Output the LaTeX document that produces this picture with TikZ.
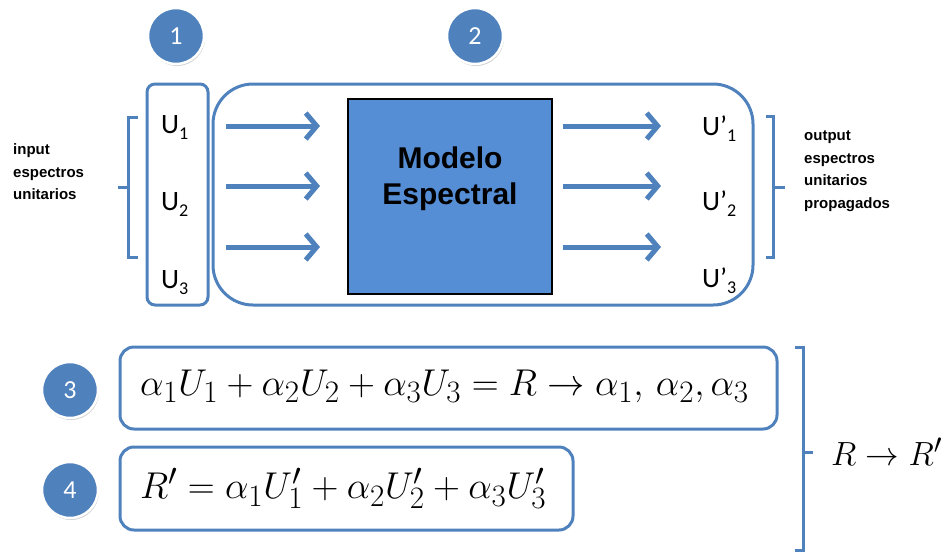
\documentclass[tikz,border=0pt]{standalone}
\usepackage{graphicx}
\usepackage{fontspec}
\setmainfont{Liberation Sans}
\newfontfamily\carl{Carlito}
\usetikzlibrary{arrows.meta,shadows}
\definecolor{ublue}{HTML}{4F81BD}
\definecolor{mfill}{HTML}{558ED5}
\newcommand\usub[1]{\raisebox{-6pt}{\fontsize{18}{18}\selectfont #1}}
\newcommand\bigmath[1]{\scalebox{1.5}{\fontsize{24.88}{30}\selectfont$#1$}}
\begin{document}
\begin{tikzpicture}[x=1pt,y=-1pt,
  outl/.style={draw=ublue, line width=3pt, inner sep=0pt},
  numc/.style={circle, fill=ublue, draw=white, line width=2.5pt, minimum size=56pt, inner sep=0pt,
    text=white, font=\carl\fontsize{26}{26}\selectfont,
    drop shadow={opacity=0.35, shadow xshift=1pt, shadow yshift=-2pt}},
  flow/.style={draw=ublue, line width=5pt, -{Straight Barb[length=11pt,width=26pt]}},
  brk/.style={draw=ublue, line width=3pt},
  ulab/.style={anchor=base west, inner sep=0pt, font=\carl\fontsize{28}{28}\selectfont},
  smalltxt/.style={anchor=west, align=left, inner sep=0pt, font=\bfseries\fontsize{15}{22.5}\selectfont},
  eq/.style={anchor=west, inner sep=0pt},
]
\useasboundingbox (0,0) rectangle (947,552);

% boxes
\node[outl, rounded corners=8pt, minimum width=61pt, minimum height=221pt] (ubox) at (177.5,194.5) {};
\node[outl, rounded corners=40pt, minimum width=540pt, minimum height=221pt] (bigbox) at (483,194.5) {};
\node[draw=black, fill=mfill, line width=1.5pt, minimum width=204pt, minimum height=195pt, inner sep=0pt] (model) at (450,196.5) {};
\node[font=\bfseries\fontsize{30}{36}\selectfont, align=center] (mtxt) at (450,179) {Modelo\\Espectral};

% number circles
\node[numc] (n1) at (176,36) {1};
\node[numc] (n2) at (475,36) {2};
\node[numc] (n3) at (70,390) {3};
\node[numc] (n4) at (70,490) {4};

% U labels
\node[ulab] (u1) at (161,133) {U\usub{1}};
\node[ulab] (u2) at (161,210) {U\usub{2}};
\node[ulab] (u3) at (161,288) {U\usub{3}};
\node[ulab] (v1) at (702,135) {U’\usub{1}};
\node[ulab] (v2) at (702,210) {U’\usub{2}};
\node[ulab] (v3) at (702,287) {U’\usub{3}};

% arrows
\coordinate (a1s) at (226,126); \coordinate (a1e) at (320,126);
\coordinate (a2s) at (226,186); \coordinate (a2e) at (320,186);
\coordinate (a3s) at (226,247); \coordinate (a3e) at (320,247);
\coordinate (b1s) at (563,126); \coordinate (b1e) at (661,126);
\coordinate (b2s) at (563,186); \coordinate (b2e) at (661,186);
\coordinate (b3s) at (563,247); \coordinate (b3e) at (661,247);
\draw[flow] (a1s) -- (a1e);
\draw[flow] (a2s) -- (a2e);
\draw[flow] (a3s) -- (a3e);
\draw[flow] (b1s) -- (b1e);
\draw[flow] (b2s) -- (b2e);
\draw[flow] (b3s) -- (b3e);

% side texts
\node[smalltxt] (intxt) at (13,172) {input\\espectros\\unitarios};
\node[smalltxt] (outtxt) at (804,171) {output\\espectros\\unitarios\\propagados};

% brackets
\draw[brk] (138,117) -- (128,117) -- (128,257) -- (138,257);
\draw[brk] (128,187) -- (118,187);
\draw[brk] (766,116) -- (773,116) -- (773,257) -- (766,257);
\draw[brk] (773,187) -- (785,187);

% equations
\node[outl, rounded corners=14pt, minimum width=657pt, minimum height=82pt] (eqbox3) at (448.5,388) {};
\node[outl, rounded corners=14pt, minimum width=453pt, minimum height=83pt] (eqbox4) at (346.5,488.5) {};
\node[eq] (e3) at (140,386) {\bigmath{\alpha_1U_1+\alpha_2U_2+\alpha_3U_3=R\rightarrow\alpha_1,\,\alpha_2,\alpha_3}};
\node[eq] (e4) at (140,488) {\bigmath{R'=\alpha_1U'_1+\alpha_2U'_2+\alpha_3U'_3}};
\draw[brk] (795,347) -- (803,347) -- (803,550) -- (795,550);
\draw[brk] (803,452) -- (813,452);
\node[eq] (rr) at (831,452) {\resizebox{111pt}{!}{\fontsize{24.88}{30}\selectfont$R\rightarrow R'$}};
\end{tikzpicture}
\end{document}
